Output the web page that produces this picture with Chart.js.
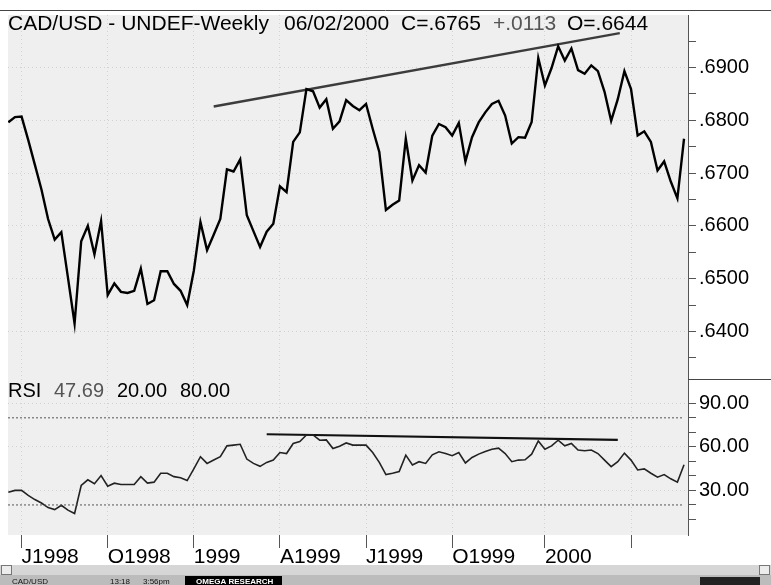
<!DOCTYPE html>
<html>
<head>
<meta charset="utf-8">
<script src="https://cdn.jsdelivr.net/npm/chart.js@4.4.0/dist/chart.umd.min.js"></script>
<style>
  html,body{margin:0;padding:0;background:#fff;}
  canvas{display:block;}
</style>
</head>
<body>
<canvas id="c" width="771" height="585"></canvas>
<script>
/* ===== data: weekly bars 19/06/1998 .. 02/06/2000 ===== */
const PRICE = [
  .6796,.6806,.6807,.6763,.6716,.6669,.6613,.6574,.6588,.6502,
  .6415,.6571,.6600,.6546,.6609,.6469,.6491,.6475,.6473,.6477,
  .6519,.6452,.6459,.6514,.6514,.6490,.6477,.6450,.6515,.6607,
  .6554,.6583,.6613,.6707,.6703,.6726,.6620,.6590,.6560,.6589,
  .6604,.6675,.6664,.6759,.6777,.6859,.6855,.6824,.6840,.6784,
  .6798,.6838,.6827,.6819,.6831,.6784,.6740,.6630,.6640,.6648,
  .6765,.6686,.6715,.6701,.6771,.6793,.6787,.6771,.6795,.6722,
  .6768,.6796,.6815,.6831,.6837,.6809,.6756,.6768,.6767,.6797,
  .6918,.6866,.6899,.6940,.6913,.6936,.6895,.6888,.6904,.6893,
  .6854,.6799,.6840,.6893,.6859,.6771,.6779,.6759,.6705,.6722,
  .6684,.6652,.6765
];
const RSI = [
  28.8,30.0,30.0,26.6,23.7,21.3,18.2,16.8,19.8,16.4,
  14.1,33.4,37.3,34.6,40.2,32.9,35.0,34.1,34.1,34.1,
  39.5,35.0,35.7,41.8,41.8,39.5,38.7,36.8,44.8,53.2,
  48.6,50.9,53.2,60.7,61.2,61.8,51.6,48.6,46.6,49.3,
  50.9,56.1,55.4,62.3,63.6,68.2,68.2,64.6,64.8,58.8,
  60.5,62.7,61.2,61.2,61.2,56.1,49.3,40.9,41.8,43.0,
  54.3,47.5,49.8,48.6,54.5,56.6,55.4,53.9,56.1,48.9,
  52.7,55.0,56.8,58.4,59.1,55.4,49.8,50.9,51.1,55.0,
  64.1,58.4,60.7,64.6,60.7,62.3,57.8,57.3,57.8,55.4,
  50.9,46.4,49.8,55.7,50.9,44.1,44.8,41.8,39.1,40.9,
  38.0,35.7,47.69
];
const TICK_IDX    = [2, 15, 28, 41, 54, 67, 81, 94];
const TICK_LABELS = ['J1998','O1998','1999','A1999','J1999','O1999','2000',''];
const PRICE_TICKS = [.635,.640,.645,.650,.655,.660,.665,.670,.675,.680,.685,.690,.695];
const RSI_TICKS   = [10,20,30,40,50,60,70,80,90];
const RSI_LEVELS  = [20, 80];
const TREND_X     = [31, 92.3];
const TREND_PRICE = [.6826, .6965];
const RSI_TREND_X = [39, 92];
const RSI_TREND   = [68.7, 64.8];

/* ===== helpers ===== */
function qs(id){ return document.getElementById(id); }
const FONT = "'Liberation Sans', Arial, sans-serif";
const xy = (xs, ys) => ys.map((v,i)=>({ x: xs ? xs[i] : i, y: v }));
const priceMajor = v => Math.round(v*1000) % 10 === 0;
const rsiMajor = v => Math.round(v) % 30 === 0;

/* ===== background, header texts, window chrome ===== */
const chrome = {
  id: 'chrome',
  beforeDraw(chart){
    const {ctx, chartArea:a} = chart;
    ctx.save();
    ctx.fillStyle = '#fff';
    ctx.fillRect(0,0,chart.width,chart.height);
    ctx.fillStyle = '#efefef';
    ctx.fillRect(a.left, a.top, a.right-a.left, a.bottom-a.top);
    ctx.restore();
  },
  afterDraw(chart){
    const {ctx, chartArea:a} = chart;
    const sep = chart.scales.y.bottom;
    ctx.save();
    ctx.strokeStyle = '#444'; ctx.lineWidth = 1;
    ctx.beginPath();
    ctx.moveTo(0, 10.5); ctx.lineTo(chart.width, 10.5);
    ctx.moveTo(a.right, Math.round(sep)+0.5); ctx.lineTo(chart.width, Math.round(sep)+0.5);
    ctx.stroke();

    ctx.textBaseline = 'alphabetic';
    const txt = (s, x, y, c) => { ctx.fillStyle = c || '#000'; ctx.fillText(s, x, y); };
    ctx.font = `21px ${FONT}`;
    txt('CAD/USD - UNDEF-Weekly', 8, 30);
    txt('06/02/2000', 284, 30);
    txt('C=.6765', 401, 30);
    txt('+.0113', 493, 30, '#555');
    txt('O=.6644', 567, 30);
    ctx.font = `20px ${FONT}`;
    txt('RSI', 8, 397);
    txt('47.69', 54, 397, '#555');
    txt('20.00', 117, 397);
    txt('80.00', 180, 397);

    // scroll bar + status bar
    ctx.fillStyle = '#d6d6d6'; ctx.fillRect(0, 565, chart.width, 10);
    ctx.fillStyle = '#ececec'; ctx.fillRect(1, 565, 11, 10); ctx.fillRect(759, 565, 11, 10);
    ctx.strokeStyle = '#777'; ctx.strokeRect(1.5, 565.5, 10, 9); ctx.strokeRect(759.5, 565.5, 10, 9);
    ctx.fillStyle = '#bcbcbc'; ctx.fillRect(0, 575, chart.width, 10);
    ctx.fillStyle = '#000'; ctx.fillRect(185, 576, 97, 9);
    ctx.fillStyle = '#222'; ctx.fillRect(700, 577, 60, 8);
    ctx.font = `8px ${FONT}`;
    txt('CAD/USD', 12, 584, '#111');
    txt('13:18', 110, 584, '#111');
    txt('3:56pm', 143, 584, '#111');
    ctx.font = `bold 8px ${FONT}`;
    txt('OMEGA RESEARCH', 196, 584, '#fff');
    ctx.restore();
  }
};

/* ===== chart ===== */
new Chart(qs('c'), {
  type: 'line',
  data: {
    datasets: [
      { data: xy(null, PRICE), yAxisID: 'y', borderColor: '#000', borderWidth: 2.4 },
      { data: xy(TREND_X, TREND_PRICE), yAxisID: 'y', borderColor: '#3c3c3c', borderWidth: 2.4 },
      ...RSI_LEVELS.map(l => ({
        data: xy([-0.05, 101.8], [l, l]), yAxisID: 'rsi',
        borderColor: '#555', borderWidth: 1, borderDash: [2, 2]
      })),
      { data: xy(null, RSI), yAxisID: 'rsi', borderColor: '#222', borderWidth: 1.6 },
      { data: xy(RSI_TREND_X, RSI_TREND), yAxisID: 'rsi', borderColor: '#111', borderWidth: 2.2 }
    ]
  },
  options: {
    responsive: false,
    animation: false,
    devicePixelRatio: 1,
    layout: { padding: { left: 8, top: 10, right: 0, bottom: 0 } },
    elements: { point: { radius: 0 }, line: { tension: 0, fill: false } },
    plugins: { legend: { display: false }, tooltip: { enabled: false } },
    scales: {
      x: {
        type: 'linear', min: -0.05, max: 102.6,
        afterBuildTicks: s => { s.ticks = TICK_IDX.map(v => ({ value: v })); },
        afterFit: s => { s.height = 50; },
        ticks: {
          callback: v => TICK_LABELS[TICK_IDX.indexOf(v)] ?? '',
          align: 'start', autoSkip: false, maxRotation: 0, padding: -3,
          font: { family: FONT, size: 21 }, color: '#000'
        },
        grid: { color: 'rgba(0,0,0,0.12)', tickColor: '#555', tickLength: 13 },
        border: { display: false, dash: [1, 3] }
      },
      y: {
        type: 'linear', position: 'right', stack: 'panes', stackWeight: 368,
        min: .6309, max: .69994,
        afterBuildTicks: s => { s.ticks = PRICE_TICKS.map(v => ({ value: v })); },
        afterFit: s => { s.width = 83; },
        ticks: {
          callback: v => priceMajor(v) ? '.' + Math.round(v*10000) : '',
          autoSkip: false, padding: 3, font: { family: FONT, size: 20 }, color: '#000'
        },
        grid: {
          color: c => priceMajor(c.tick.value) ? 'rgba(0,0,0,0.12)' : 'rgba(0,0,0,0)',
          tickColor: '#555', tickLength: 8
        },
        border: { display: true, color: '#555', width: 1, dash: [1, 3] }
      },
      rsi: {
        type: 'linear', position: 'right', stack: 'panes', stackWeight: 157,
        min: -0.7, max: 106.4,
        afterBuildTicks: s => { s.ticks = RSI_TICKS.map(v => ({ value: v })); },
        afterFit: s => { s.width = 83; },
        ticks: {
          callback: v => rsiMajor(v) ? v.toFixed(2) : '',
          autoSkip: false, padding: 3, font: { family: FONT, size: 20 }, color: '#000'
        },
        grid: {
          color: c => rsiMajor(c.tick.value) ? 'rgba(0,0,0,0.12)' : 'rgba(0,0,0,0)',
          tickColor: '#555', tickLength: 8
        },
        border: { display: true, color: '#555', width: 1, dash: [1, 3] }
      }
    }
  },
  plugins: [chrome]
});
</script>
</body>
</html>
